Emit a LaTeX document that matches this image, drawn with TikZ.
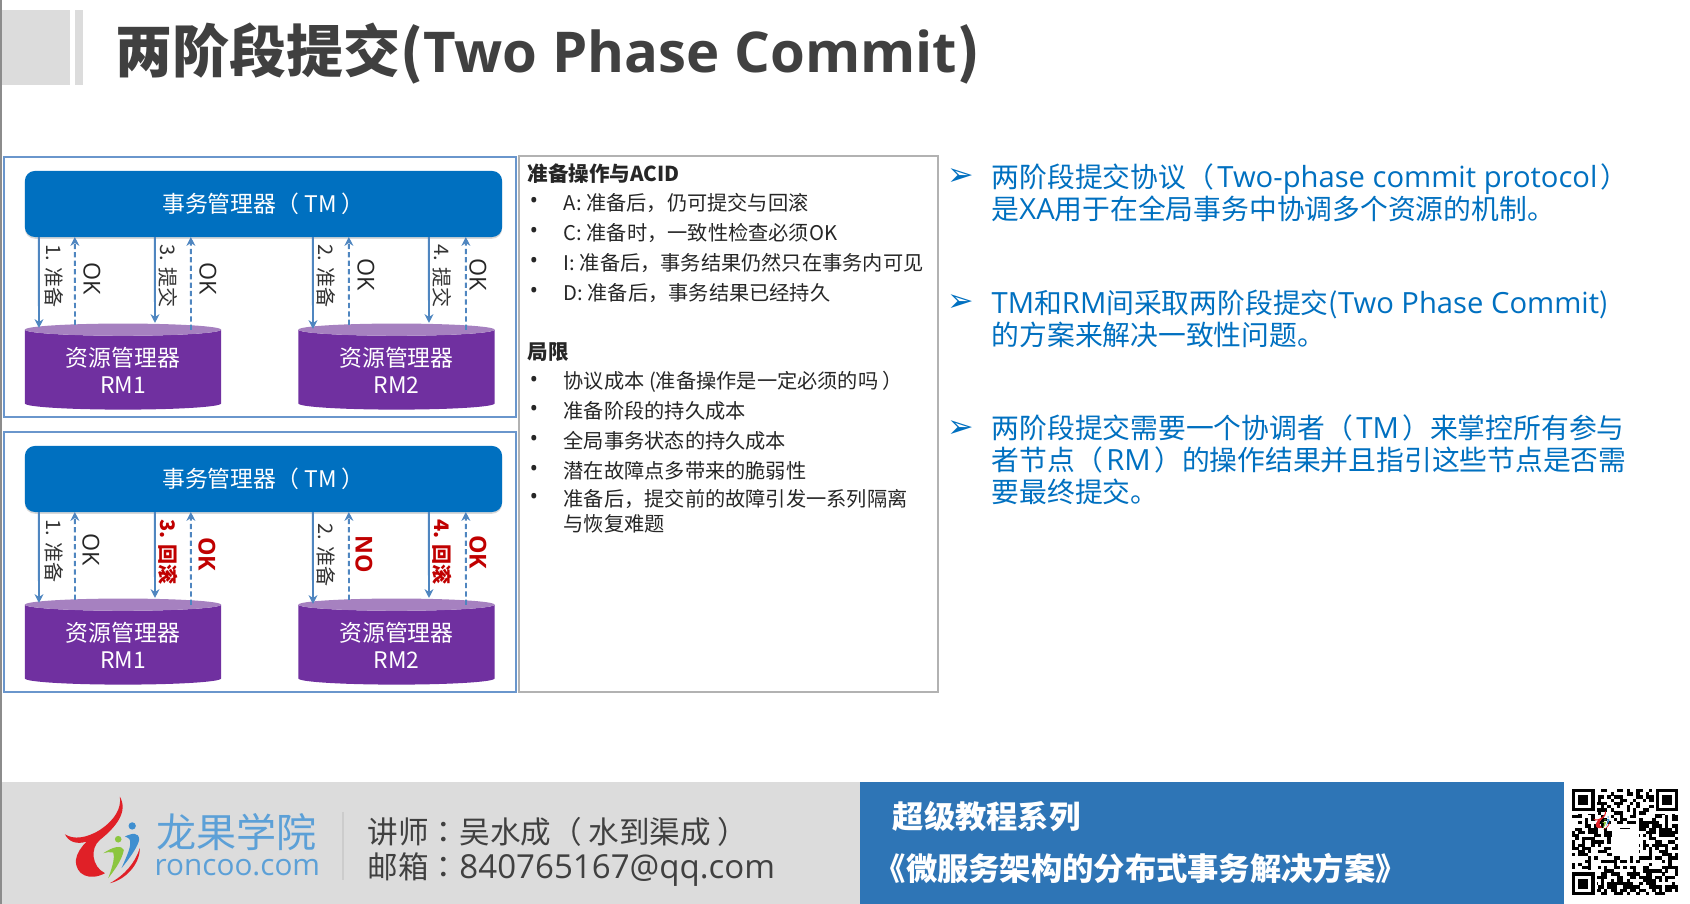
\documentclass[tikz,border=0pt]{standalone}
\usepackage{fontspec}
\setmainfont{Noto Sans CJK SC}
\newfontfamily\dingfont{DejaVu Sans}
\newfontfamily\latfont{Open Sans}
\newfontfamily\tcfont{Noto Sans CJK TC}
\usetikzlibrary{arrows.meta,calc,shadows,shapes.geometric}
\definecolor{tmblue}{HTML}{0070C0}
\definecolor{framebl}{HTML}{6A96CC}
\definecolor{linebl}{HTML}{4F86C0}
\definecolor{rmviolet}{HTML}{7030A0}
\definecolor{rmlilac}{HTML}{A681C0}
\definecolor{bandgray}{HTML}{DCDCDC}
\definecolor{bandblue}{HTML}{2E75B6}
\definecolor{inktext}{HTML}{404040}
\definecolor{alertred}{HTML}{C00000}
\definecolor{logored}{HTML}{E02027}
\definecolor{logoblue}{HTML}{3F8FD0}
\definecolor{logogreen}{HTML}{8CC63F}
\tikzset{
	softshade/.style={drop shadow={opacity=0.3, shadow xshift=0pt, shadow yshift=-0.5pt}},
	tmbox/.style={draw=none, fill=tmblue, rounded corners=1mm, softshade, minimum width=4.77cm, minimum height=0.66cm, inner sep=0, outer sep=0, text=white, font=\fontsize{6.5}{8}\selectfont},
	rmdisk/.style={cylinder, shape border rotate=90, aspect=0.107, minimum width=1.96cm, minimum height=0.86cm, inner sep=0, outer sep=0, cylinder uses custom fill, cylinder body fill=rmviolet, cylinder end fill=rmlilac, draw=none, text=white, align=center, font=\fontsize{6.5}{7.7}\selectfont},
	reqline/.style={draw=linebl, line width=0.55pt, -{Stealth[length=2.5pt,width=2.5pt]}},
	ackline/.style={draw=linebl, line width=0.55pt, dash pattern=on 1.5pt off 0.9pt, -{Stealth[length=2.5pt,width=2.5pt]}},
	steplabel/.style={rotate=-90, inner sep=0, text=black!80, font=\fontsize{5.7}{7}\selectfont},
	stepalert/.style={steplabel, text=alertred, font=\fontsize{5.7}{7}\selectfont\bfseries},
	oklabel/.style={rotate=-90, inner sep=0, text=black!85, font=\latfont\fontsize{6.6}{7}\selectfont},
	okalert/.style={oklabel, text=alertred, font=\latfont\fontsize{6.6}{7}\selectfont\bfseries},
	listtext/.style={anchor=west, inner sep=0, text=black!85, font=\fontsize{5.75}{7}\selectfont},
	pointtext/.style={anchor=west, inner sep=0, text=tmblue, align=left, font=\fontsize{7.9}{9.1}\selectfont},
	pointmark/.style={inner sep=0, text=tmblue, font=\dingfont\bfseries\fontsize{9}{10}\selectfont},
	foottext/.style={anchor=west, inner sep=0, text=inktext, font=\fontsize{8.7}{10}\selectfont},
	bandtext/.style={anchor=west, inner sep=0, text=white, font=\fontsize{8.9}{10}\selectfont\bfseries}
}
\def\lat#1{{\latfont\fontsize{8.3}{9.1}\selectfont #1}}
\def\logomark{
	\fill[logored] (210,35) .. controls (235,80) and (200,125) .. (150,165) .. controls (120,190) and (125,245) .. (165,265) .. controls (120,290) and (75,270) .. (78,225) .. controls (80,205) and (95,185) .. (110,170) .. controls (80,180) and (55,170) .. (45,148) .. controls (70,165) and (110,160) .. (150,135) .. controls (195,105) and (215,70) .. (210,35) -- cycle;
	\fill[logored] (270,190) .. controls (270,240) and (225,285) .. (180,295) .. controls (225,270) and (255,235) .. (270,190) -- cycle;
	\fill[logogreen] (205,163) circle (10);
	\fill[logogreen] (160,205) .. controls (190,185) and (215,180) .. (222,195) .. controls (215,230) and (190,260) .. (175,280) .. controls (190,240) and (195,215) .. (190,203) .. controls (180,200) and (170,202) .. (160,205) -- cycle;
	\fill[logoblue] (247,123) circle (11);
	\fill[logoblue] (225,155) .. controls (245,145) and (268,140) .. (268,165) .. controls (262,190) and (235,225) .. (215,250) .. controls (232,210) and (245,185) .. (240,165) .. controls (238,160) and (232,157) .. (225,155) -- cycle;
}
\def\mgrpanel[#1](#2){
	\begin{scope}[shift={(0,#2)}]
		\draw[draw=framebl, line width=0.75pt] (4,157) rectangle (516,417);
		\node[tmbox] (tm#1) at (263.5,204) {事务管理器（ TM ）\hspace{0.09cm}};
		\node[rmdisk] (rma#1) at (123,370) {资源管理器\\RM1};
		\node[rmdisk] (rmb#1) at (396.5,370) {资源管理器\\RM2};
		\foreach \sx/\ex/\ey in {14/-84/-42, 130/32/-47}
			\draw[reqline] ($(tm#1.south west)+(\sx,0)$) -- ($(rma#1.center)+(\ex,\ey)$);
		\foreach \sx/\ex/\ey in {288/-83.5/-41, 404/32.5/-47}
			\draw[reqline] ($(tm#1.south west)+(\sx,0)$) -- ($(rmb#1.center)+(\ex,\ey)$);
		\foreach \sx/\ex/\ey in {50/-48/-45, 166/68/-40}
			\draw[ackline] ($(rma#1.center)+(\ex,\ey)$) -- ($(tm#1.south west)+(\sx,0)$);
		\foreach \sx/\ex/\ey in {324/-47.5/-45, 441/69.5/-40}
			\draw[ackline] ($(rmb#1.center)+(\ex,\ey)$) -- ($(tm#1.south west)+(\sx,0)$);
	\end{scope}
}

\begin{document}
\begin{tikzpicture}[x=0.01cm, y=-0.01cm]
	\useasboundingbox (0,0) rectangle (1690,904);
	\fill[white] (0,0) rectangle (1690,904);
	% header
	\fill[black!45] (0,0) rectangle (2.5,904);
	\fill[bandgray] (2.5,10) rectangle (70,85);
	\fill[bandgray] (75,10) rectangle (83,85);
	\node[anchor=west, inner sep=0, text=inktext, font=\fontsize{16.2}{18}\selectfont\bfseries] (title) at (115,54) {两阶段提交({\latfont\fontsize{16}{18}\selectfont Two Phase Commit})};

	% the two panels
	\mgrpanel[up](0)
	\mgrpanel[dn](275)

	\node[steplabel] (upa) at (54,276) {1. 准备};
	\node[oklabel] (upb) at (92,279) {OK};
	\node[steplabel] (upc) at (168,276) {3. 提交};
	\node[oklabel] (upd) at (208,279) {OK};
	\node[steplabel] (upe) at (326,276) {2. 准备};
	\node[oklabel] (upf) at (366,275) {OK};
	\node[steplabel] (upg) at (442,276) {4. 提交};
	\node[oklabel] (uph) at (478,275) {OK};

	\node[steplabel] (dna) at (54,551) {1. 准备};
	\node[oklabel] (dnb) at (91,550) {OK};
	\node[stepalert] (dnc) at (168,552) {3. 回滚};
	\node[okalert] (dnd) at (207,554) {OK};
	\node[steplabel] (dne) at (326,555) {2. 准备};
	\node[okalert] (dnf) at (364,554) {NO};
	\node[stepalert] (dng) at (442,552) {4. 回滚};
	\node[okalert] (dnh) at (478,552) {OK};

	% middle list
	\draw[draw=black!30, line width=0.5pt] (519,156) rectangle (938,692);
	\node[listtext, font=\fontsize{5.85}{7}\selectfont\bfseries] (acid) at (527,174) {准备操作与ACID};
	\node[listtext, font=\fontsize{5.85}{7}\selectfont\bfseries] (limit) at (527,352) {局限};
	\foreach \y/\t in {203/{A: 准备后，仍可提交与回滚}, 233/{C: 准备时，一致性检查必须OK}, 263/{I: 准备后，事务结果仍然只在事务内可见}, 293/{D: 准备后，事务结果已经持久}, 382/{协议成本 (准备操作是一定必须的吗 ）}, 411/{准备阶段的持久成本}, 441/{全局事务状态的持久成本}, 471/{潜在故障点多带来的脆弱性}, 499/{准备后，提交前的故障引发一系列隔离}}{
		\node[listtext, font=\latfont\fontsize{6.5}{7}\selectfont] (dot\y) at (529,\y) {•};
		\node[listtext] (item\y) at (563,\y) {\t};
	}
	\node[listtext] (itemlast) at (563,524) {与恢复难题};

	% right points
	\node[pointmark] (marka) at (961,177) {➢};
	\node[pointmark] (markb) at (961,303) {➢};
	\node[pointmark] (markc) at (961,429) {➢};
	\node[pointtext] (pointa) at (991,193) {两阶段提交协议（\kern1pt\lat{Two-phase commit protocol}\kern1pt）\\是\lat{XA}用于在全局事务中协调多个资源的机制。};
	\node[pointtext] (pointb) at (991,319) {\lat{TM}和\lat{RM}间采取两阶段提交(\lat{Two Phase Commit})\\的方案来解决一致性问题。};
	\node[pointtext] (pointc) at (991,460) {两阶段提交需要一个协调者（\kern1pt\lat{TM}\kern1pt）来掌控所有参与\\者节点（\kern1pt\lat{RM}\kern1pt）的操作结果并且指引这些节点是否需\\要最终提交。};

	% footer
	\fill[bandgray] (2.5,782) rectangle (860,904);
	\fill[bandblue] (860,782) rectangle (1564,904);
	\begin{scope}[shift={(50,785)}, x=0.00333cm, y=-0.00333cm]
		\logomark
	\end{scope}
	\node[anchor=west, inner sep=0, text=logoblue!85, font=\fontsize{11.4}{13}\selectfont] (logocn) at (156,832) {龙果学院};
	\node[anchor=west, inner sep=0, text=logoblue!85, font=\latfont\fontsize{8.45}{10}\selectfont] (logoen) at (154,868) {roncoo.com};
	\draw[draw=black!20, line width=0.5pt] (343,812) -- (343,880);
	\node[foottext] (teacher) at (367,832) {讲师{\tcfont ：}吴水成（ 水到渠成 ）};
	\node[foottext] (mail) at (367,870) {邮箱{\tcfont ：}{\latfont\fontsize{9.4}{10}\selectfont 840765167@qq.com}};
	\node[bandtext] (series) at (892,817) {超级教程系列};
	\node[bandtext] (course) at (874,868) {《微服务架构的分布式事务解决方案》};

	% qr square
	\pgfmathsetseed{4711}
	\foreach \i in {0,...,32}
		\foreach \j in {0,...,32}{
			\pgfmathtruncatemacro{\on}{rnd<0.5 ? 1 : 0}
			\ifnum\on=1
				\fill[black] ({1572+\i*3.21},{789+\j*3.21}) rectangle +(3.3,3.3);
			\fi
		}
	\foreach \qx/\qy in {1572/789, 1655.5/789, 1572/872.5}{
		\fill[white] ({\qx-2},{\qy-2}) rectangle +(27,27);
		\fill[black] (\qx,\qy) rectangle +(22.5,22.5);
		\fill[white] ({\qx+3.2},{\qy+3.2}) rectangle +(16.1,16.1);
		\fill[black] ({\qx+6.4},{\qy+6.4}) rectangle +(9.7,9.7);
	}
	\fill[white] (1612,829) rectangle (1639,856);
	\begin{scope}[shift={(1590,808)}, x=0.00073cm, y=-0.00073cm]
		\logomark
	\end{scope}
\end{tikzpicture}
\end{document}
